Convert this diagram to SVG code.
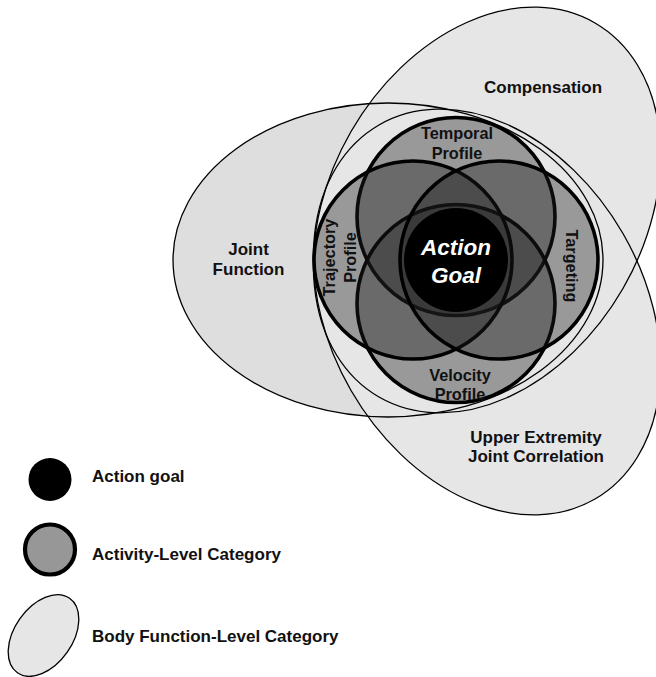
<svg xmlns="http://www.w3.org/2000/svg" xmlns:xlink="http://www.w3.org/1999/xlink" width="656" height="677" viewBox="0 0 656 677">
  <style>
    text { font-family: "Liberation Sans", Arial, Helvetica, sans-serif; font-weight: bold; fill: #111; }
    .lbl { font-size: 17px; }
    .ring-lbl { font-size: 16.3px; text-anchor: middle; }
    .mid { text-anchor: middle; }
    .goal-lbl { font-size: 22.5px; font-style: italic; fill: #fff; text-anchor: middle; }
    .body-fill { fill: #e6e6e6; stroke: none; }
    .body-fill-joint { fill: #dedede; stroke: none; }
    .body-line { fill: none; stroke: #000; stroke-width: 1.3; }
    .activity { fill: #1e1e1e; fill-opacity: 0.38; stroke: #000; stroke-width: 3.6; }
    .goal { fill: #000; }
  </style>
  <defs>
    <!-- body function-level regions: one ellipse shape, three orientations -->
    <ellipse id="shape-joint" cx="388" cy="260" rx="215" ry="157"/>
    <ellipse id="shape-comp" cx="0" cy="0" rx="216" ry="157" transform="translate(487,210) rotate(-60)"/>
    <ellipse id="shape-ue" cx="0" cy="0" rx="216" ry="157" transform="translate(487,312) rotate(60)"/>
  </defs>

  <rect width="656" height="677" fill="#fff"/>

  <!-- body function-level categories (fills) -->
  <g id="joint-function">
    <use xlink:href="#shape-joint" href="#shape-joint" class="body-fill-joint"/>
  </g>
  <g id="compensation">
    <use xlink:href="#shape-comp" href="#shape-comp" class="body-fill"/>
  </g>
  <g id="upper-extremity-joint-correlation">
    <use xlink:href="#shape-ue" href="#shape-ue" class="body-fill"/>
  </g>

  <!-- outlines of the body regions sit above every fill -->
  <g id="body-outlines">
    <use xlink:href="#shape-joint" href="#shape-joint" class="body-line"/>
    <use xlink:href="#shape-comp" href="#shape-comp" class="body-line"/>
    <use xlink:href="#shape-ue" href="#shape-ue" class="body-line"/>
  </g>

  <!-- body region labels -->
  <g id="body-labels">
    <text class="lbl mid" x="543" y="93">Compensation</text>
    <text class="lbl mid" x="248.5" y="255">Joint</text>
    <text class="lbl mid" x="248.5" y="275">Function</text>
    <text class="lbl mid" x="536" y="443">Upper Extremity</text>
    <text class="lbl mid" x="536" y="462">Joint Correlation</text>
  </g>

  <!-- activity-level categories -->
  <g id="temporal-profile">
    <circle class="activity" cx="456" cy="216.5" r="99"/>
  </g>
  <g id="velocity-profile">
    <circle class="activity" cx="456" cy="303.5" r="99"/>
  </g>
  <g id="trajectory-profile">
    <circle class="activity" cx="413" cy="260" r="99"/>
  </g>
  <g id="targeting">
    <circle class="activity" cx="499" cy="260" r="99"/>
  </g>

  <g id="activity-labels">
    <text class="ring-lbl" x="457" y="139">Temporal</text>
    <text class="ring-lbl" x="457" y="159">Profile</text>
    <text class="ring-lbl" x="460" y="381">Velocity</text>
    <text class="ring-lbl" x="460" y="400">Profile</text>
    <text class="ring-lbl" transform="translate(566,266) rotate(90)">Targeting</text>
    <text class="ring-lbl" transform="translate(335,257.5) rotate(-90)">Trajectory</text>
    <text class="ring-lbl" transform="translate(355.5,257.5) rotate(-90)">Profile</text>
  </g>

  <!-- action goal -->
  <g id="action-goal">
    <circle class="goal" cx="456" cy="260" r="52"/>
    <text class="goal-lbl" x="456" y="255">Action</text>
    <text class="goal-lbl" x="456" y="283">Goal</text>
  </g>

  <!-- legend -->
  <g id="legend">
    <g id="legend-action-goal">
      <circle class="goal" cx="50" cy="479.5" r="21.5"/>
      <text class="lbl" x="92" y="482">Action goal</text>
    </g>
    <g id="legend-activity">
      <circle cx="50" cy="549.5" r="25" fill="#979797" stroke="#000" stroke-width="4.2"/>
      <text class="lbl" x="92" y="560">Activity-Level Category</text>
    </g>
    <g id="legend-body">
      <ellipse cx="0" cy="0" rx="45.5" ry="29" transform="translate(43.5,635.5) rotate(-55)" fill="#e6e6e6" stroke="#000" stroke-width="1.3"/>
      <text class="lbl" x="92" y="642">Body Function-Level Category</text>
    </g>
  </g>
</svg>
